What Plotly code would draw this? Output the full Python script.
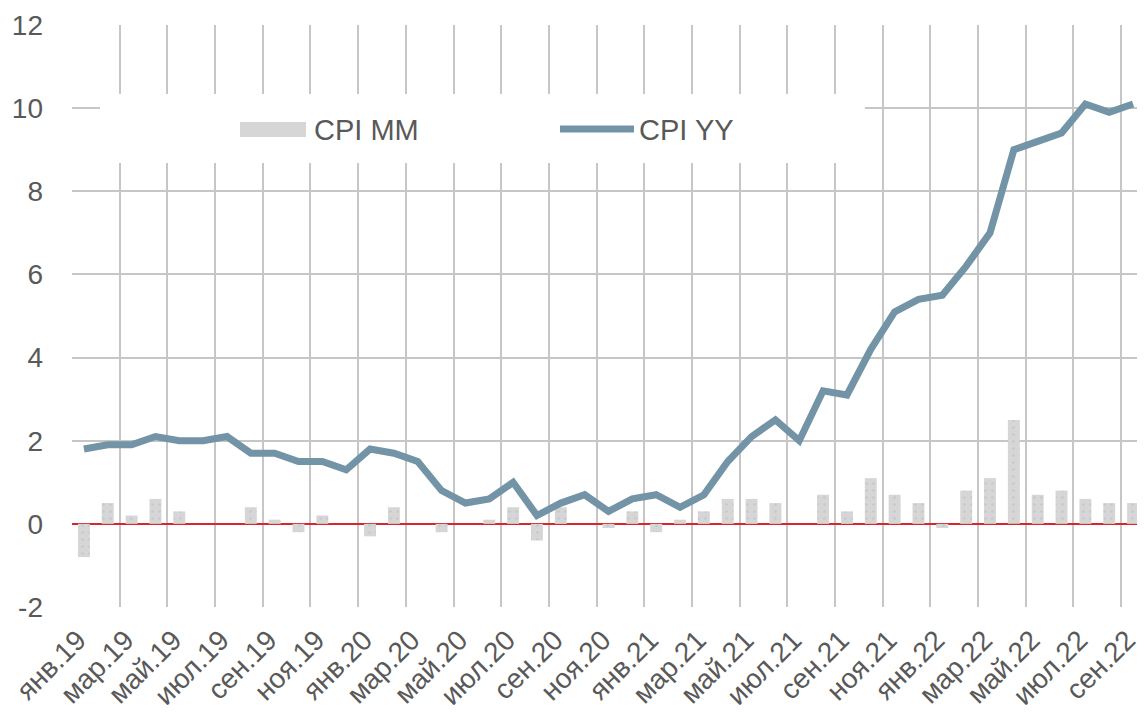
import plotly.graph_objects as go

months = [
    "янв.19", "фев.19", "мар.19", "апр.19", "май.19", "июн.19", "июл.19", "авг.19", "сен.19", "окт.19", "ноя.19", "дек.19",
    "янв.20", "фев.20", "мар.20", "апр.20", "май.20", "июн.20", "июл.20", "авг.20", "сен.20", "окт.20", "ноя.20", "дек.20",
    "янв.21", "фев.21", "мар.21", "апр.21", "май.21", "июн.21", "июл.21", "авг.21", "сен.21", "окт.21", "ноя.21", "дек.21",
    "янв.22", "фев.22", "мар.22", "апр.22", "май.22", "июн.22", "июл.22", "авг.22", "сен.22",
]

cpi_yy = [1.8, 1.9, 1.9, 2.1, 2.0, 2.0, 2.1, 1.7, 1.7, 1.5, 1.5, 1.3,
          1.8, 1.7, 1.5, 0.8, 0.5, 0.6, 1.0, 0.2, 0.5, 0.7, 0.3, 0.6,
          0.7, 0.4, 0.7, 1.5, 2.1, 2.5, 2.0, 3.2, 3.1, 4.2, 5.1, 5.4,
          5.5, 6.2, 7.0, 9.0, 9.2, 9.4, 10.1, 9.9, 10.1]

cpi_mm = [-0.8, 0.5, 0.2, 0.6, 0.3, 0.0, 0.0, 0.4, 0.1, -0.2, 0.2, 0.0,
          -0.3, 0.4, 0.0, -0.2, 0.0, 0.1, 0.4, -0.4, 0.4, 0.0, -0.1, 0.3,
          -0.2, 0.1, 0.3, 0.6, 0.6, 0.5, 0.0, 0.7, 0.3, 1.1, 0.7, 0.5,
          -0.1, 0.8, 1.1, 2.5, 0.7, 0.8, 0.6, 0.5, 0.5]

series_names = ["CPI MM", "CPI YY"]
y_ticks = [-2, 0, 2, 4, 6, 8, 10, 12]
y_tick_text = ["-2", "0", "2", "4", "6", "8", "10", "12"]

x_idx = list(range(len(months)))
label_idx = x_idx[::2]
label_txt = months[::2]

FONT = "Liberation Sans, Arial, sans-serif"
TXT = "#595959"
GRID = "#c6c6c6"
BAR = "#d6d6d6"
LINE = "#7294a6"

fig = go.Figure()
fig.add_trace(go.Bar(
    x=x_idx, y=cpi_mm, name=series_names[0], width=0.5,
    marker=dict(color=BAR, line=dict(width=0),
                pattern=dict(shape=".", fgcolor="#bababa", bgcolor="#d6d6d6", size=7, solidity=0.12)),
    showlegend=False,
))
fig.add_trace(go.Scatter(
    x=x_idx, y=cpi_yy, name=series_names[1], mode="lines",
    line=dict(color=LINE, width=7),
    showlegend=False,
))

# white box behind legend (hides gridlines)
fig.add_shape(type="rect", xref="x", yref="y", x0=0.674, x1=32.75, y0=8.68, y1=10.34,
              fillcolor="white", line=dict(width=0), layer="between")

# custom legend (screen pixel -> paper)
def px_x(px):
    return (px - 72) / 1073

def px_y(py):
    return (607 - py) / 582

fig.add_shape(type="rect", xref="paper", yref="paper",
              x0=px_x(240), x1=px_x(306), y0=px_y(137), y1=px_y(122),
              fillcolor=BAR, line=dict(width=0), layer="above")
fig.add_shape(type="line", xref="paper", yref="paper",
              x0=px_x(560), x1=px_x(634), y0=px_y(129), y1=px_y(129),
              line=dict(color=LINE, width=7), layer="above")
fig.add_annotation(text=series_names[0], xref="paper", yref="paper", x=px_x(312), y=px_y(130),
                   xanchor="left", yanchor="middle", showarrow=False,
                   font=dict(family=FONT, size=29, color=TXT))
fig.add_annotation(text=series_names[1], xref="paper", yref="paper", x=px_x(637), y=px_y(130),
                   xanchor="left", yanchor="middle", showarrow=False,
                   font=dict(family=FONT, size=29, color=TXT))

# page body has an 8px margin: figure starts at (8, 8) on screen
fig.update_layout(
    width=1137, height=711,
    margin=dict(l=64, r=0, t=17, b=112),
    paper_bgcolor="white", plot_bgcolor="white",
    font=dict(family=FONT, size=28, color=TXT),
    bargap=0.5,
)
fig.update_xaxes(
    range=[-0.5, 44.5], tickmode="array", tickvals=label_idx, ticktext=label_txt,
    tickangle=-45, showgrid=False, zeroline=False, showline=False, ticks="",
    ticklabelstandoff=10, ticklabelshift=-6, automargin=False, ticklabeloverflow="allow",
    tickfont=dict(family=FONT, size=28, color=TXT),
    minor=dict(tickmode="linear", tick0=-0.5, dtick=2, showgrid=True, gridcolor=GRID, gridwidth=1.5, ticks=""),
)
fig.update_yaxes(
    range=[-2, 12], tickmode="array", tickvals=y_ticks, ticktext=y_tick_text,
    showgrid=True, gridcolor=GRID, gridwidth=1.5,
    zeroline=True, zerolinecolor="#d8262c", zerolinewidth=2,
    showline=False, ticks="", ticklabelstandoff=28, automargin=False,
    tickfont=dict(family=FONT, size=28, color=TXT),
)

fig.write_html("out.html")
